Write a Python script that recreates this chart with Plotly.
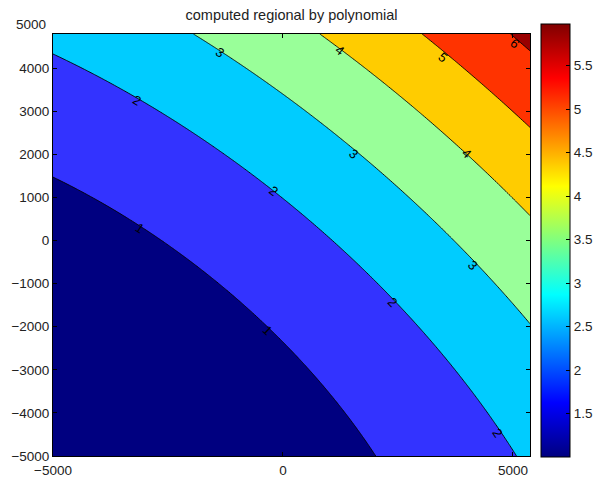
import numpy as np
import plotly.graph_objects as go

# second-order regional trend surface: z = c0 + c1*u + c2*v + c3*u^2 + c4*u*v + c5*v^2  (u, v in km)
poly_coef = [1.662587, 0.296269, 0.327431, 0.017161, 0.01825, 0.019654]
contour_levels = [1, 2, 3, 4, 5, 6]
x_range = [-5000, 5370]
y_range = [-5000, 4790]
x_ticks = [-5000, 0, 5000]
y_ticks = [-5000, -4000, -3000, -2000, -1000, 0, 1000, 2000, 3000, 4000]
y_top_label = 5000
cbar_range = [1.0, 5.98]
cbar_ticks = [1.5, 2, 2.5, 3, 3.5, 4, 4.5, 5, 5.5]

# contour label anchors
lab_x = [-3174, -1370, 1239, 3478, 5043, -217, -3109, 1522, 4000, 4130, 2391, -326, 4674]
lab_y = [3241, 4352, 4398, 4236, 4560, 1157, 278, 2014, 2014, -579, -1435, -2083, -4468]
lab_v = [2, 3, 4, 5, 6, 2, 1, 3, 4, 3, 2, 1, 2]

c = poly_coef


def surface(x, y):
    u, v = x / 1000.0, y / 1000.0
    return c[0] + c[1]*u + c[2]*v + c[3]*u*u + c[4]*u*v + c[5]*v*v


gx = np.linspace(x_range[0], x_range[1], 240)
gy = np.linspace(y_range[0], y_range[1], 240)
GX, GY = np.meshgrid(gx, gy)
GZ = surface(GX, GY)

band_colors = ["#000080", "#3333ff", "#00ccff", "#99ff99", "#ffcc00", "#ff3300", "#990000"]
n = len(band_colors)
band_scale = []
for k, col in enumerate(band_colors):
    lo = 0 if k == 0 else (k - 0.5) / (n - 1)
    hi = 1 if k == n - 1 else (k + 0.5) / (n - 1)
    band_scale += [[lo, col], [hi, col]]

jet = [[0, "rgb(0,0,128)"], [0.125, "rgb(0,0,255)"], [0.375, "rgb(0,255,255)"],
       [0.625, "rgb(255,255,0)"], [0.875, "rgb(255,0,0)"], [1, "rgb(128,0,0)"]]

FONT = "Liberation Sans, Arial, sans-serif"
TICK_FONT = dict(family=FONT, size=13.5, color="#222")

fig = go.Figure()
fig.add_trace(go.Contour(
    x=gx, y=gy, z=GZ, autocontour=False,
    contours=dict(start=contour_levels[0], end=contour_levels[-1], size=1, coloring="fill"),
    colorscale=band_scale, showscale=False,
    line=dict(color="black", width=0.9), hoverinfo="skip"))

fig.add_trace(go.Scatter(
    x=[None, None], y=[None, None], mode="markers", showlegend=False,
    marker=dict(color=cbar_range, cmin=cbar_range[0], cmax=cbar_range[1], colorscale=jet,
                showscale=True,
                colorbar=dict(x=1.023, xanchor="left", y=1.0237, yanchor="top",
                              len=1.026, lenmode="fraction", thickness=29,
                              thicknessmode="pixels", outlinecolor="black", outlinewidth=1,
                              tickvals=cbar_ticks, ticktext=[f"{t:g}" for t in cbar_ticks],
                              ticks="inside", ticklen=4, tickcolor="black",
                              tickfont=TICK_FONT, xpad=0, ypad=0))))

px_x = 477 / (x_range[1] - x_range[0])
px_y = 422 / (y_range[1] - y_range[0])
for lx, ly, lv in zip(lab_x, lab_y, lab_v):
    u, v = lx / 1000.0, ly / 1000.0
    dzx = c[1] + 2*c[3]*u + c[4]*v
    dzy = c[2] + c[4]*u + 2*c[5]*v
    tx, ty = dzy * px_x, dzx * px_y  # along-contour direction in screen space (y down)
    ang = np.degrees(np.arctan2(ty, tx))
    if ang > 90:
        ang -= 180
    if ang < -90:
        ang += 180
    fig.add_annotation(x=lx, y=ly, text=str(lv), showarrow=False, textangle=float(ang),
                       font=dict(family=FONT, size=13, color="black"))

# top y tick label sits just above the frame
fig.add_annotation(x=0, xref="paper", xanchor="right", xshift=-5,
                   y=(y_top_label - y_range[0]) / (y_range[1] - y_range[0]), yref="paper",
                   yanchor="middle", text=str(y_top_label), showarrow=False, font=TICK_FONT)

axis_common = dict(showline=True, linecolor="black", linewidth=1, mirror="ticks",
                   ticks="inside", ticklen=4, tickcolor="black", showgrid=False, zeroline=False,
                   tickfont=TICK_FONT)
fig.update_xaxes(range=x_range, tickvals=x_ticks, ticklabelstandoff=2, **axis_common)
fig.update_yaxes(range=y_range, tickvals=y_ticks, **axis_common)

fig.update_layout(
    width=595, height=481, margin=dict(l=53, r=65, t=34, b=25, autoexpand=False),
    paper_bgcolor="white", plot_bgcolor="white",
    title=dict(text="computed regional by polynomial", x=0.49, xanchor="center",
               y=1 - 15 / 481, yanchor="middle",
               font=dict(family=FONT, size=14.5, color="#222")),
    showlegend=False)

fig.write_html("out.html")
